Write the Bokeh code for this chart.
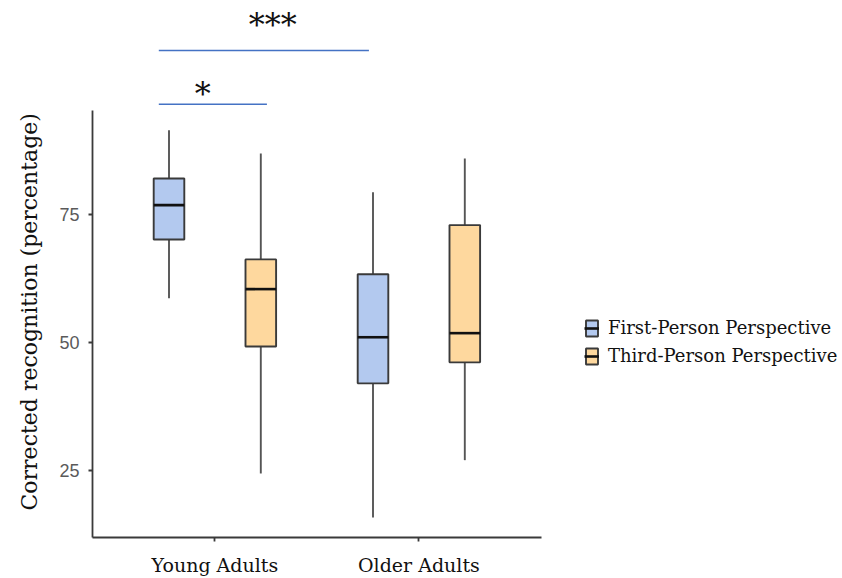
from bokeh.plotting import figure
from bokeh.models import (Range1d, Legend, LegendItem, ColumnDataSource,
                          FixedTicker, Label, Title)
from bokeh.embed import file_html
from bokeh.resources import INLINE

# ---------------- data ----------------
groups = ["Young Adults", "Older Adults"]
perspectives = ["First-Person Perspective", "Third-Person Perspective"]

# one entry per group (Young, Older) for each perspective
fpp_low = [58.6, 15.8]
fpp_q1 = [70.1, 42.0]
fpp_med = [76.8, 51.0]
fpp_q3 = [82.0, 63.3]
fpp_high = [91.4, 79.3]

tpp_low = [24.4, 27.0]
tpp_q1 = [49.2, 46.1]
tpp_med = [60.4, 51.8]
tpp_q3 = [66.2, 72.9]
tpp_high = [86.9, 85.9]

y_ticks = [25, 50, 75]
y_axis_bounds = (11.9, 95.3)

# significance brackets: (from group, from perspective) -> (to group, to perspective)
sig_from_group = ["Young Adults", "Young Adults"]
sig_to_group = ["Older Adults", "Young Adults"]
sig_from_persp = [0, 0]
sig_to_persp = [0, 1]
sig_height = [107.0, 96.5]
sig_label = ["***", "*"]
sig_label_height = [111.9, 98.4]

fills = ["#b3c9ef", "#fed89e"]
offsets = [-0.225, 0.225]
box_w = 0.15
outline = "#3a3a3a"
serif = "DejaVu Serif"
star_shift_px = [9, -10]

W, H = 842, 578
left_px, px_per_group = 92, 204
x_start = -0.1
x_end = x_start + (W - left_px) / px_per_group

p = figure(width=W, height=H, output_backend="svg", toolbar_location=None,
           x_range=Range1d(x_start, x_end), y_range=Range1d(11.9, 114.8),
           min_border_left=left_px, min_border_top=10, min_border_bottom=41,
           min_border_right=0)
p.outline_line_color = None
p.xgrid.visible = False
p.ygrid.visible = False

def gpos(g):
    return groups.index(g) + 0.5

series = [
    (fpp_low, fpp_q1, fpp_med, fpp_q3, fpp_high),
    (tpp_low, tpp_q1, tpp_med, tpp_q3, tpp_high),
]
items = []
for i, (lo, q1, med, q3, hi) in enumerate(series):
    xc = [gpos(g) + offsets[i] for g in groups]
    src = ColumnDataSource(dict(x=xc, xl=[v - box_w / 2 for v in xc],
                                xr=[v + box_w / 2 for v in xc],
                                lo=lo, q1=q1, med=med, q3=q3, hi=hi))
    p.segment(x0="x", x1="x", y0="lo", y1="q1", source=src, line_color="#555555", line_width=1.9)
    p.segment(x0="x", x1="x", y0="q3", y1="hi", source=src, line_color="#555555", line_width=1.9)
    r = p.vbar(x="x", width=box_w, bottom="q1", top="q3", source=src,
               fill_color=fills[i], line_color=outline, line_width=1.9)
    m = p.segment(x0="xl", x1="xr", y0="med", y1="med", source=src,
                  line_color="#111111", line_width=2.6)
    items.append(LegendItem(label=perspectives[i], renderers=[r, m]))

# significance brackets
def pos(g, k):
    return gpos(g) + offsets[k]

bx0 = [pos(g, k) - 0.05 for g, k in zip(sig_from_group, sig_from_persp)]
bx1 = [pos(g, k) + (0.03 if k == 1 else -0.02) for g, k in zip(sig_to_group, sig_to_persp)]
p.segment(x0=bx0, x1=bx1, y0=sig_height, y1=sig_height, line_color="#4472c4", line_width=1.6)
for x0, x1, yl, t, dx in zip(bx0, bx1, sig_label_height, sig_label, star_shift_px):
    p.add_layout(Label(x=(x0 + x1) / 2, y=yl, x_offset=dx, text=t, text_align="center",
                       text_baseline="middle", text_font=serif,
                       text_font_size="32px", text_color="#111111"))

# axes
p.yaxis.ticker = FixedTicker(ticks=y_ticks)
p.yaxis.bounds = y_axis_bounds
p.yaxis.axis_line_color = outline
p.yaxis.axis_line_width = 1.8
p.yaxis.major_tick_line_color = outline
p.yaxis.major_tick_line_width = 1.8
p.yaxis.major_tick_out = 4
p.yaxis.major_tick_in = 0
p.yaxis.minor_tick_line_color = None
p.yaxis.major_label_text_font = "Liberation Sans"
p.yaxis.major_label_text_font_size = "18px"
p.yaxis.major_label_text_color = "#5a5a5a"
p.yaxis.major_label_standoff = 9

p.xaxis.ticker = FixedTicker(ticks=[gpos(g) for g in groups])
p.xaxis.major_label_overrides = {gpos(g): g for g in groups}
p.xaxis.bounds = (x_start, 2.1)
p.xaxis.axis_line_color = outline
p.xaxis.axis_line_width = 1.8
p.xaxis.major_tick_line_color = outline
p.xaxis.major_tick_line_width = 1.8
p.xaxis.major_tick_out = 4
p.xaxis.major_tick_in = 0
p.xaxis.minor_tick_line_color = None
p.xaxis.major_label_text_font = serif
p.xaxis.major_label_text_font_size = "19px"
p.xaxis.major_label_text_color = "#111111"
p.xaxis.major_label_standoff = 12

# y axis title
p.add_layout(Title(text="Corrected recognition (percentage)", align="left", offset=27,
                   text_font=serif, text_font_size="22px", text_font_style="normal",
                   text_color="#111111", standoff=29), "left")

legend = Legend(items=items, label_text_font=serif, label_text_font_size="18px",
                label_text_color="#111111", glyph_width=15, glyph_height=20,
                spacing=7, padding=4, margin=0, border_line_color=None,
                background_fill_alpha=0,
                location=(492, 171), label_standoff=9)
p.add_layout(legend, "center")

open("out.html", "w").write(file_html(p, INLINE))
